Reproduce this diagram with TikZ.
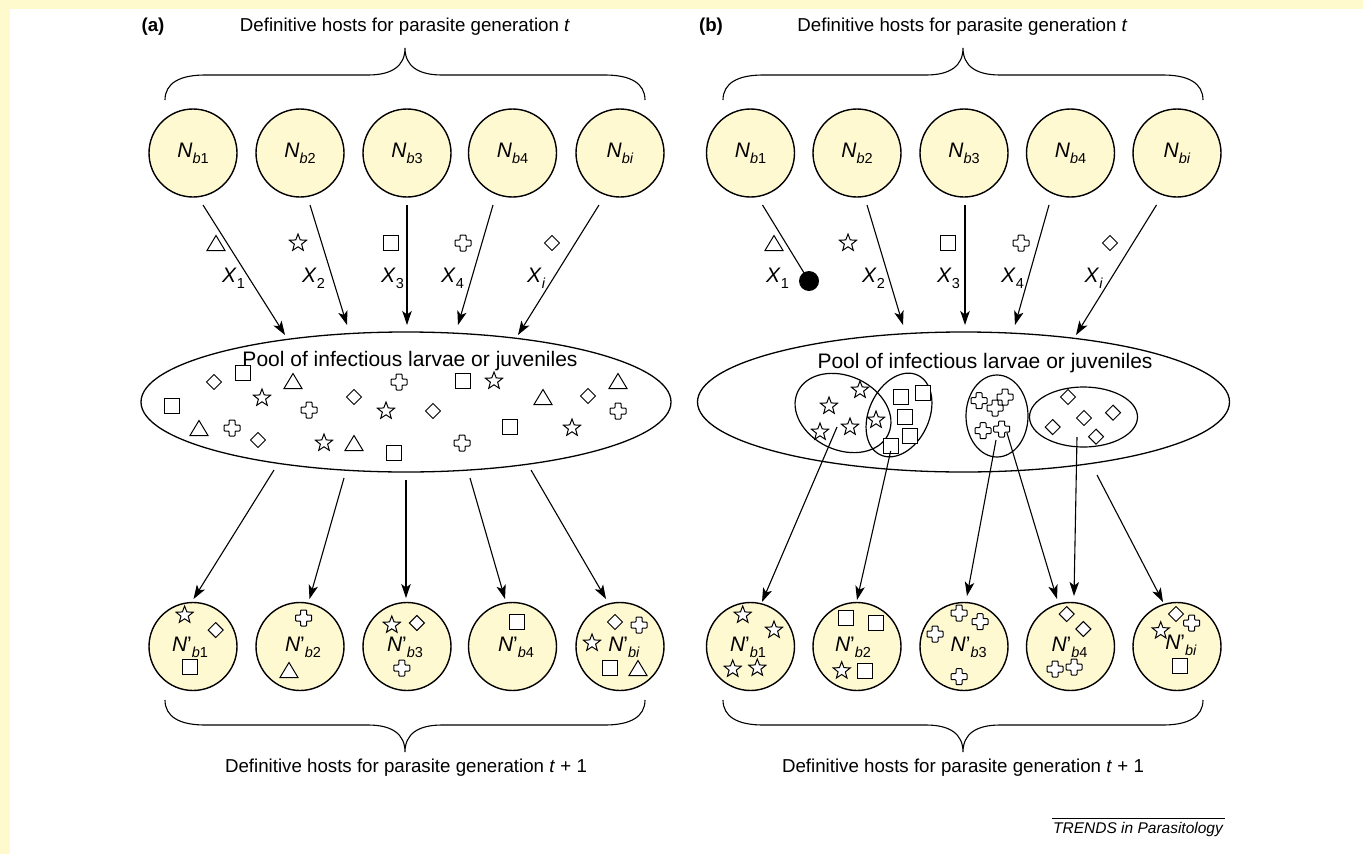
\documentclass[tikz,border=0pt]{standalone}
\usepackage{fontspec}
\setmainfont{Liberation Sans}
\usetikzlibrary{arrows.meta,shapes.geometric}
\definecolor{bgyel}{HTML}{FFFACD}
\definecolor{hostfill}{HTML}{FFF9D2}
\newcommand\lowsub[1]{\raisebox{-0.55ex}{\fontsize{14.5}{14.5}\selectfont #1}}
\begin{document}
\begin{tikzpicture}[x=1pt,y=-1pt,
  host/.style={circle, draw, line width=1.4pt, fill=hostfill, minimum size=88pt, inner sep=0pt, font=\fontsize{21}{21}\selectfont},
  lab/.style={inner sep=0pt, font=\fontsize{21}{21}\selectfont},
  ttl/.style={inner sep=0pt, anchor=base, font=\fontsize{18.7}{18.7}\selectfont},
  pooltxt/.style={inner sep=0pt, anchor=base, font=\fontsize{21}{21}\selectfont},
  arr/.style={-{Stealth[length=14pt,width=9.5pt,inset=3.5pt]}, line width=1.1pt},
  ln/.style={line width=1.1pt},
  pool/.style={draw, ellipse, line width=1.3pt, inner sep=0pt},
  grp/.style={draw, ellipse, line width=1.2pt, inner sep=0pt},
  sym/.style={line width=1pt, fill=white},
  symtri/.pic={\draw[sym] (0,-7.5) -- (9,7.5) -- (-9,7.5) -- cycle;},
  symsq/.pic={\draw[sym] (-7.5,-7.5) rectangle (7.5,7.5);},
  symdia/.pic={\draw[sym] (0,-7.5) -- (7.5,0) -- (0,7.5) -- (-7.5,0) -- cycle;},
  symstar/.pic={\draw[sym] (-90:9) -- (-54:3.8) -- (-18:9) -- (18:3.8) -- (54:9) -- (90:3.8) -- (126:9) -- (162:3.8) -- (198:9) -- (234:3.8) -- cycle;},
  symcross/.pic={\draw[sym, rounded corners=0.8pt] (-3,-8) -- (3,-8) -- (3,-3) -- (8,-3) -- (8,3) -- (3,3) -- (3,8) -- (-3,8) -- (-3,3) -- (-8,3) -- (-8,-3) -- (-3,-3) -- cycle;}
]
\useasboundingbox (0,0) rectangle (1363,854);
\fill[white] (0,0) rectangle (1363,854);
\fill[bgyel] (0,0) rectangle (10,854);
\fill[bgyel] (0,0) rectangle (1363,9);

% ---------------- Panel (a) ----------------
\node[ttl, font=\fontsize{18.7}{18.7}\selectfont\bfseries] (alab) at (153,31.5) {(a)};
\node[ttl] (atitle) at (405,31.5) {Definitive hosts for parasite generation \textit{t}};
\draw[ln] (165,100) .. controls (165,83) and (180,75) .. (205,75) -- (368,75)
  .. controls (392,75) and (405,66) .. (405,48)
  .. controls (405,66) and (418,75) .. (442,75) -- (605,75)
  .. controls (630,75) and (645,83) .. (645,100);

\node[host] (ta1) at (193,153) {\textit{N}\lowsub{\textit{b}1}};
\node[host] (ta2) at (300,153) {\textit{N}\lowsub{\textit{b}2}};
\node[host] (ta3) at (407,153) {\textit{N}\lowsub{\textit{b}3}};
\node[host] (ta4) at (512.5,153) {\textit{N}\lowsub{\textit{b}4}};
\node[host] (ta5) at (620,153) {\textit{N}\lowsub{\textit{bi}}};

\coordinate (a1s) at (203,205); \coordinate (a1e) at (285,335);
\coordinate (a2s) at (310,205); \coordinate (a2e) at (347,325);
\coordinate (a3s) at (407,205); \coordinate (a3e) at (407,325);
\coordinate (a4s) at (493,205); \coordinate (a4e) at (458,325);
\coordinate (a5s) at (599,205); \coordinate (a5e) at (518,335);
\foreach \i in {1,...,5} {\draw[arr] (a\i s) -- (a\i e);}

\pic at (216,243) {symtri};
\pic at (298,243) {symstar};
\pic at (391,243) {symsq};
\pic at (463,243) {symcross};
\pic at (552,243) {symdia};
\node[lab, anchor=base west] (ax1) at (222,282) {\textit{X}\lowsub{1}};
\node[lab, anchor=base west] (ax2) at (302,282) {\textit{X}\lowsub{2}};
\node[lab, anchor=base west] (ax3) at (381,282) {\textit{X}\lowsub{3}};
\node[lab, anchor=base west] (ax4) at (441,282) {\textit{X}\lowsub{4}};
\node[lab, anchor=base west] (ax5) at (527,282) {\textit{X}\lowsub{\textit{i}}};

\node[pool, minimum width=530pt, minimum height=140pt] (poola) at (406,402) {};
\node[pooltxt] (poolatxt) at (410,366) {Pool of infectious larvae or juveniles};

\pic at (172,406) {symsq};
\pic at (214,382) {symdia};
\pic at (243,373) {symsq};
\pic at (293,381) {symtri};
\pic at (262,398) {symstar};
\pic at (199,428) {symtri};
\pic at (232,428) {symcross};
\pic at (258,440) {symdia};
\pic at (309,410) {symcross};
\pic at (354,397) {symdia};
\pic at (324,443) {symstar};
\pic at (354,443) {symtri};
\pic at (399,382) {symcross};
\pic at (386,411) {symstar};
\pic at (394,453) {symsq};
\pic at (433,411) {symdia};
\pic at (462,443) {symcross};
\pic at (463,381) {symsq};
\pic at (494,381) {symstar};
\pic at (543,397) {symtri};
\pic at (588,396) {symdia};
\pic at (618,381) {symtri};
\pic at (618,411) {symcross};
\pic at (510,427) {symsq};
\pic at (572,428) {symstar};

\node[host] (ba1) at (193,646.5) {};
\node[host] (ba2) at (300,646.5) {};
\node[host] (ba3) at (407,646.5) {};
\node[host] (ba4) at (512.5,646.5) {};
\node[host] (ba5) at (620,646.5) {};

\coordinate (c1s) at (274,470); \coordinate (c1e) at (193.5,599);
\coordinate (c2s) at (344,478); \coordinate (c2e) at (309.5,599);
\coordinate (c3s) at (406,480); \coordinate (c3e) at (406,598);
\coordinate (c4s) at (470,478); \coordinate (c4e) at (505,599);
\coordinate (c5s) at (531,470); \coordinate (c5e) at (606,599);
\foreach \i in {1,...,5} {\draw[arr] (c\i s) -- (c\i e);}

\pic at (184.6,615) {symstar};
\pic at (215.7,630) {symdia};
\pic at (190,667) {symsq};
\node[lab] (la1) at (190,647) {\textit{N}'\lowsub{\textit{b}1}};
\pic at (303.6,618) {symcross};
\pic at (289,670) {symtri};
\node[lab] (la2) at (303,647) {\textit{N}'\lowsub{\textit{b}2}};
\pic at (391.8,625) {symstar};
\pic at (416.8,623) {symdia};
\pic at (401.8,668) {symcross};
\node[lab] (la3) at (405,647) {\textit{N}'\lowsub{\textit{b}3}};
\pic at (516.8,622) {symsq};
\node[lab] (la4) at (516,647) {\textit{N}'\lowsub{\textit{b}4}};
\pic at (615,622) {symdia};
\pic at (639,625) {symcross};
\pic at (592,643) {symstar};
\pic at (609.6,668) {symsq};
\pic at (638,668) {symtri};
\node[lab] (la5) at (624,647) {\textit{N}'\lowsub{\textit{bi}}};

\draw[ln] (165,700) .. controls (165,717) and (180,725) .. (205,725) -- (368,725)
  .. controls (392,725) and (405,734) .. (405,752)
  .. controls (405,734) and (418,725) .. (442,725) -- (605,725)
  .. controls (630,725) and (645,717) .. (645,700);
\node[ttl] (abottom) at (406,772) {Definitive hosts for parasite generation \textit{t} + 1};

% ---------------- Panel (b) ----------------
\node[ttl, font=\fontsize{18.7}{18.7}\selectfont\bfseries] (blab) at (711,31.5) {(b)};
\node[ttl] (btitle) at (962.5,31.5) {Definitive hosts for parasite generation \textit{t}};
\draw[ln] (723,100) .. controls (723,83) and (738,75) .. (763,75) -- (926,75)
  .. controls (950,75) and (963,66) .. (963,48)
  .. controls (963,66) and (976,75) .. (1000,75) -- (1163,75)
  .. controls (1188,75) and (1203,83) .. (1203,100);

\node[host] (tb1) at (750.5,153) {\textit{N}\lowsub{\textit{b}1}};
\node[host] (tb2) at (857,153) {\textit{N}\lowsub{\textit{b}2}};
\node[host] (tb3) at (964,153) {\textit{N}\lowsub{\textit{b}3}};
\node[host] (tb4) at (1070.5,153) {\textit{N}\lowsub{\textit{b}4}};
\node[host] (tb5) at (1177,153) {\textit{N}\lowsub{\textit{bi}}};

\node[circle, fill=black, minimum size=20pt, inner sep=0pt] (dot) at (809,281) {};
\coordinate (b1s) at (762.5,205);
\draw[ln] (b1s) -- (dot.center);
\coordinate (b2s) at (867,205); \coordinate (b2e) at (903,325);
\coordinate (b3s) at (965,205); \coordinate (b3e) at (965,325);
\coordinate (b4s) at (1049,205); \coordinate (b4e) at (1015,325);
\coordinate (b5s) at (1156.5,205); \coordinate (b5e) at (1076,335);
\foreach \i in {2,...,5} {\draw[arr] (b\i s) -- (b\i e);}

\pic at (774,243) {symtri};
\pic at (848,243) {symstar};
\pic at (948,243) {symsq};
\pic at (1021,243) {symcross};
\pic at (1110,243) {symdia};
\node[lab, anchor=base west] (bx1) at (766,282) {\textit{X}\lowsub{1}};
\node[lab, anchor=base west] (bx2) at (862,282) {\textit{X}\lowsub{2}};
\node[lab, anchor=base west] (bx3) at (937,282) {\textit{X}\lowsub{3}};
\node[lab, anchor=base west] (bx4) at (1001,282) {\textit{X}\lowsub{4}};
\node[lab, anchor=base west] (bx5) at (1084.5,282) {\textit{X}\lowsub{\textit{i}}};

\node[pool, minimum width=532pt, minimum height=140pt] (poolb) at (963.5,402) {};
\node[pooltxt] (poolbtxt) at (985,368) {Pool of infectious larvae or juveniles};

\node[grp, minimum width=100pt, minimum height=74pt, rotate=-25] (gstar) at (843,413) {};
\node[grp, minimum width=88pt, minimum height=60pt, rotate=65] (gsq) at (899,415) {};
\node[grp, minimum width=62pt, minimum height=82pt] (gcross) at (997,416) {};
\node[grp, minimum width=108pt, minimum height=60pt] (gdia) at (1083.5,417) {};

\pic at (860,390) {symstar};
\pic at (829,406) {symstar};
\pic at (820,432) {symstar};
\pic at (850,427) {symstar};
\pic at (876,420) {symstar};
\pic at (900.7,396.7) {symsq};
\pic at (922.7,393) {symsq};
\pic at (905,416.7) {symsq};
\pic at (910,436) {symsq};
\pic at (890.7,446) {symsq};
\pic at (979,400.7) {symcross};
\pic at (1005,397) {symcross};
\pic at (995,408) {symcross};
\pic at (983,430.7) {symcross};
\pic at (1001.7,429) {symcross};
\pic at (1068,397) {symdia};
\pic at (1113,412.7) {symdia};
\pic at (1084,418) {symdia};
\pic at (1052.7,427) {symdia};
\pic at (1096,436.7) {symdia};

\node[host] (bb1) at (750.5,646.5) {};
\node[host] (bb2) at (857,646.5) {};
\node[host] (bb3) at (964,646.5) {};
\node[host] (bb4) at (1070.5,646.5) {};
\node[host] (bb5) at (1177,646.5) {};

\coordinate (d1s) at (837,427); \coordinate (d1e) at (762,602);
\coordinate (d2s) at (890.7,451); \coordinate (d2e) at (857,600);
\coordinate (d3s) at (996,440); \coordinate (d3e) at (967,596);
\coordinate (d4s) at (1007,433); \coordinate (d4e) at (1057,599);
\coordinate (d5s) at (1077,437); \coordinate (d5e) at (1074,596);
\coordinate (d6s) at (1097,475); \coordinate (d6e) at (1163,602);
\foreach \i in {1,...,6} {\draw[arr] (d\i s) -- (d\i e);}

\pic at (742.7,615) {symstar};
\pic at (774,630) {symstar};
\pic at (732.7,669) {symstar};
\pic at (757.3,668) {symstar};
\node[lab] (lb1) at (748,647) {\textit{N}'\lowsub{\textit{b}1}};
\pic at (845.7,618) {symsq};
\pic at (875.7,622.7) {symsq};
\pic at (865,670.7) {symsq};
\pic at (841.7,670.7) {symstar};
\node[lab] (lb2) at (853,647) {\textit{N}'\lowsub{\textit{b}2}};
\pic at (959,613) {symcross};
\pic at (980,621.7) {symcross};
\pic at (935,634) {symcross};
\pic at (959,676.7) {symcross};
\node[lab] (lb3) at (968.7,647) {\textit{N}'\lowsub{\textit{b}3}};
\pic at (1066.7,614) {symdia};
\pic at (1083.3,629) {symdia};
\pic at (1055,669) {symcross};
\pic at (1074,667) {symcross};
\node[lab] (lb4) at (1069.5,647) {\textit{N}'\lowsub{\textit{b}4}};
\pic at (1176,614) {symdia};
\pic at (1191.7,623) {symcross};
\pic at (1160.7,630.7) {symstar};
\pic at (1180,666) {symsq};
\node[lab] (lb5) at (1181,645) {\textit{N}'\lowsub{\textit{bi}}};

\draw[ln] (723,700) .. controls (723,717) and (738,725) .. (763,725) -- (926,725)
  .. controls (950,725) and (963,734) .. (963,752)
  .. controls (963,734) and (976,725) .. (1000,725) -- (1163,725)
  .. controls (1188,725) and (1203,717) .. (1203,700);
\node[ttl] (bbottom) at (963,772) {Definitive hosts for parasite generation \textit{t} + 1};

% ---------------- credit ----------------
\coordinate (crl) at (1052,818); \coordinate (crr) at (1225,818);
\draw[line width=1pt] (crl) -- (crr);
\node[inner sep=0pt, anchor=base, font=\fontsize{15.5}{15.5}\selectfont\itshape] (credit) at (1138,833) {TRENDS in Parasitology};
\end{tikzpicture}
\end{document}
